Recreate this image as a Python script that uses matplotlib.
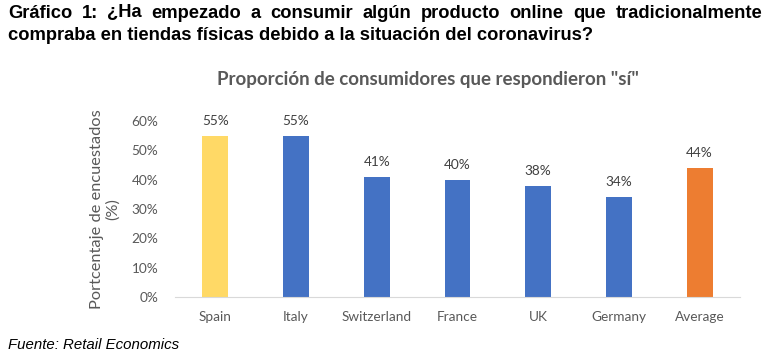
import matplotlib
matplotlib.use("Agg")
import matplotlib.pyplot as plt
from matplotlib.ticker import PercentFormatter

categories = ["Spain", "Italy", "Switzerland", "France", "UK", "Germany", "Average"]
values = [55, 55, 41, 40, 38, 34, 44]
bar_colors = ["#FFD966", "#4472C4", "#4472C4", "#4472C4", "#4472C4", "#4472C4", "#ED7D31"]
yticks = [0, 10, 20, 30, 40, 50, 60]

gray = "#595959"
W, H = 771, 359
fig = plt.figure(figsize=(7.71, 3.59), dpi=100)
ax = fig.add_axes([175/W, 1-297/H, (740-175)/W, (297-121)/H])

x = range(len(categories))
ax.bar(x, values, width=0.32, color=bar_colors, zorder=2)
for xi, v in zip(x, values):
    ax.text(xi, v + 3, f"{v}%", ha="center", va="bottom", fontsize=9.8, color="#404040", family="Lato", clip_on=False)

ax.set_xlim(-0.5, len(categories) - 0.5)
ax.set_ylim(0, 60)
ax.set_yticks(yticks)
ax.yaxis.set_major_formatter(PercentFormatter(decimals=0))
ax.set_xticks(list(x))
ax.set_xticklabels(categories)
for s in ["top", "right", "left"]:
    ax.spines[s].set_visible(False)
ax.spines["bottom"].set_color("#D9D9D9")
ax.tick_params(axis="both", length=0, colors=gray, labelsize=9.8)
ax.tick_params(axis="y", pad=12)
ax.tick_params(axis="x", pad=10)
for lab in ax.get_xticklabels() + ax.get_yticklabels():
    lab.set_family("Lato")
ax.set_ylabel("Portcentaje de encuestados\n(%)", fontsize=11.8, color=gray, family="Lato", labelpad=8)

fig.text(428/W, 1-80/H, "Proporción de consumidores que respondieron \"sí\"", ha="center", va="center",
         fontsize=13.5, fontweight="bold", color=gray, family="Lato")

head_font = ["Liberation Sans Narrow", "Liberation Sans"]
line1 = "Gráfico 1: ¿Ha empezado a consumir algún producto online que tradicionalmente"
line2 = "compraba en tiendas físicas debido a la situación del coronavirus?"

# justified first line
words = line1.split(" ")
renderer = fig.canvas.get_renderer()
texts = []
widths = []
for w in words:
    t = fig.text(0, 1-13/H, w, ha="left", va="center", fontsize=13.2, fontweight="bold",
                 color="black", family=head_font)
    widths.append(t.get_window_extent(renderer).width)
    texts.append(t)
left, right = 8, 762
gap = (right - left - sum(widths)) / (len(words) - 1)
xpos = left
for t, wd in zip(texts, widths):
    t.set_x(xpos / W)
    xpos += wd + gap

fig.text(8/W, 1-35/H, line2, ha="left", va="center", fontsize=13.2, fontweight="bold",
         color="black", family=head_font)
fig.text(8/W, 1-345/H, "Fuente: Retail Economics", ha="left", va="center", fontsize=10.8,
         style="italic", color="black", family=head_font)

fig.savefig("out.png", dpi=100)
